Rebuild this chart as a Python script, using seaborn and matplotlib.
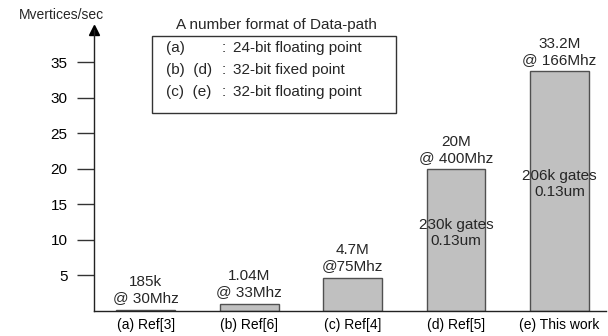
import numpy as np
import pandas as pd
import matplotlib
matplotlib.use("Agg")
from matplotlib import pyplot as plt
import seaborn as sns

# data
categories = ["(a) Ref[3]", "(b) Ref[6]", "(c) Ref[4]", "(d) Ref[5]", "(e) This work"]
throughput = [0.2, 1.04, 4.7, 20.0, 33.8]   # Mvertices/sec, bar heights
top_labels = ["185k\n@ 30Mhz", "1.04M\n@ 33Mhz", "4.7M\n@75Mhz", "20M\n@ 400Mhz", "33.2M\n@ 166Mhz"]
inner_labels = {3: "230k gates\n0.13um", 4: "206k gates\n0.13um"}
yticks = [5, 10, 15, 20, 25, 30, 35]

legend_title = "A number format of Data-path"
legend_keys = ["(a)", "(b)  (d)", "(c)  (e)"]
legend_vals = ["24-bit floating point", "32-bit fixed point", "32-bit floating point"]

sns.set_theme(style="white")
plt.rcParams["font.family"] = ["Liberation Sans", "DejaVu Sans"]
plt.rcParams["font.size"] = 11

df = pd.DataFrame({"ref": categories, "rate": throughput})

fig = plt.figure(figsize=(6.08, 3.36), dpi=100)
ax = fig.add_axes([94 / 608, 0.0744, 1 - 96 / 608, 0.837])

sns.barplot(data=df, x="ref", y="rate", color="#c0c0c0", saturation=1,
            width=0.57, edgecolor="#505050", linewidth=1.0, ax=ax)

ax.set_xlim(-0.50, 4.45)
ax.set_ylim(0, 39.6)
ax.set_xlabel("")
ax.set_ylabel("")
ax.set_yticks(yticks)
ax.set_yticklabels([str(t) for t in yticks], fontsize=11, color="black")
ax.tick_params(axis="y", direction="out", length=12, width=1, color="#333333", pad=7, left=True)
ax.tick_params(axis="x", length=0, pad=5, labelsize=10, labelcolor="black")
for s in ("top", "right"):
    ax.spines[s].set_visible(False)
for s in ("left", "bottom"):
    ax.spines[s].set_color("#222222")
    ax.spines[s].set_linewidth(1.0)

# arrow head on the y axis
ax.plot(0, 1, marker="^", color="black", markersize=7, transform=ax.transAxes, clip_on=False)

# value labels above bars
for i, (h, lab) in enumerate(zip(throughput, top_labels)):
    ax.annotate(lab, (i, h), xytext=(0, 3), textcoords="offset points",
                ha="center", va="bottom", fontsize=11, linespacing=1.2)

# labels inside the tall bars
inner_y = {3: 11.0, 4: 17.9}
for i, lab in inner_labels.items():
    ax.text(i, inner_y[i], lab, ha="center", va="center", fontsize=11, linespacing=1.2)

# axis unit label
fig.text(61 / 608, 1 - 15 / 336, "Mvertices/sec", ha="center", va="center", fontsize=10)

# legend-like box with number formats
box = plt.Rectangle((152 / 608, 1 - 113 / 336), 244 / 608, 77 / 336,
                    transform=fig.transFigure, fill=False, edgecolor="#333333", linewidth=1.0)
fig.add_artist(box)
fig.text(276 / 608, 1 - 25 / 336, legend_title, ha="center", va="center", fontsize=11)
for k, (key, val) in enumerate(zip(legend_keys, legend_vals)):
    y = 1 - (48 + 22 * k) / 336
    fig.text(166 / 608, y, key, ha="left", va="center", fontsize=11)
    fig.text(222 / 608, y, ":", ha="left", va="center", fontsize=11)
    fig.text(233 / 608, y, val, ha="left", va="center", fontsize=11)

fig.savefig("out.png", dpi=100)
